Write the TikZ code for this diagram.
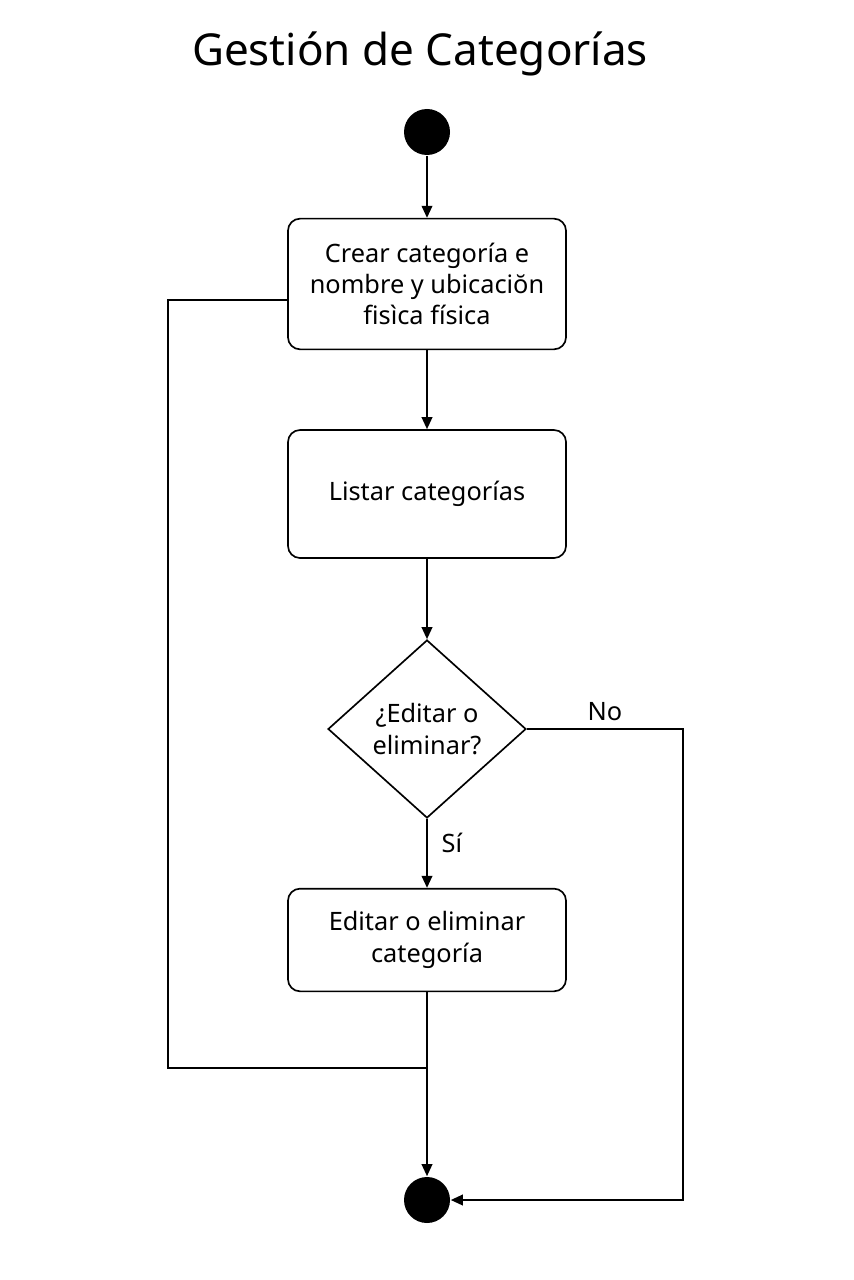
\documentclass[tikz,border=0pt]{standalone}
\usepackage{fontspec}
\setmainfont{Noto Sans}
\usetikzlibrary{arrows.meta}
\usetikzlibrary{shapes.geometric}

\begin{document}
\begin{tikzpicture}[x=0.75pt,y=-0.75pt,line width=1.25pt,
        every node/.style={font=\fontsize{19}{23.5}\selectfont},
        flow/.style={-{Triangle[length=9pt,width=8pt]}},
        activity/.style={draw,rounded corners=9pt,minimum width=208.5pt,align=center},
        decisionbox/.style={draw,diamond,minimum width=148.5pt,minimum height=133.5pt,inner sep=1pt,align=center},
        terminal/.style={circle,fill=black,minimum size=34.5pt,inner sep=0pt}]
                \useasboundingbox (0,0) rectangle (853,1280);

                \node[font=\fontsize{33}{38}\selectfont] (titulo) at (420,54) {Gestión de Categorías};

                \node[terminal] (inicio) at (427,132) {};
                \node[activity,minimum height=98pt] (crear) at (427,284)
                    {Crear categoría e\\nombre y ubicaciŏn\\fisìca física};
                \node[activity,minimum height=96pt] (listar) at (427,494) {Listar categorías};
                \node[decisionbox] (decision) at (427,729) {¿Editar o\\eliminar?};
                \node[activity,minimum height=77pt] (editar) at (427,940)
                    {Editar o eliminar\\categoría};
                \node[terminal] (fin) at (427,1200) {};
                \coordinate (junta) at (427,1068);

                \draw[flow] (inicio) -- (crear);
                \draw[flow] (crear) -- (listar);
                \draw[flow] (listar) -- (decision);
                \draw[flow] (decision) -- node[pos=0.35,right=7pt] {Sí} (editar);
                \draw[flow] (decision.east) -- node[above=2pt] {No} (683,729) |- (fin);
                \draw ([yshift=-12pt]crear.west) -| (168,1068) -- (junta);
                \draw[flow] (editar) -- (fin);
            \end{tikzpicture}
\end{document}
